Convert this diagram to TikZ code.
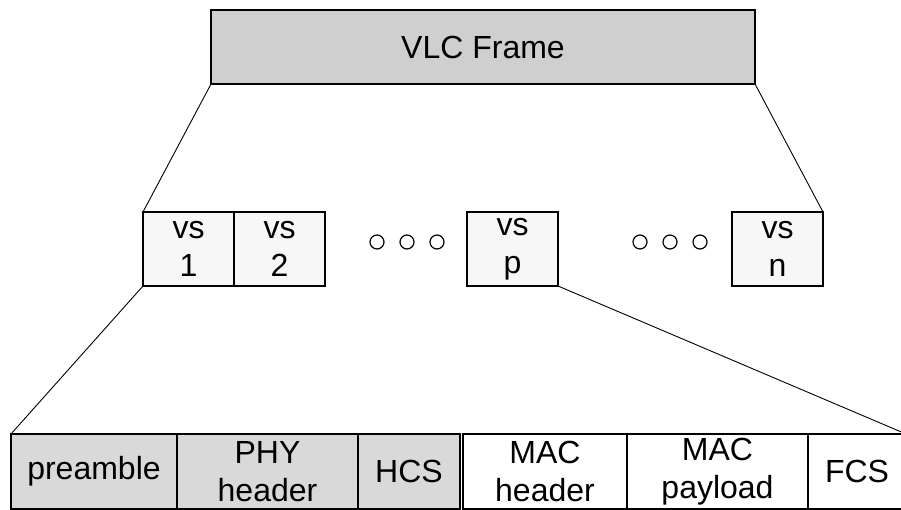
\documentclass[tikz,border=0pt]{standalone}
\usepackage{fontspec}
\setmainfont{Liberation Sans}
\usepackage{xcolor}
\usetikzlibrary{positioning}

\definecolor{framegray}{HTML}{CFCFCF}
\definecolor{phygray}{HTML}{D9D9D9}
\definecolor{vsgray}{HTML}{F7F7F7}

\begin{document}
\begin{tikzpicture}[
    x=1pt, y=1pt,
    node distance=0pt,
    frame/.style={rectangle, draw, line width=1.8pt, fill=framegray, minimum width=544pt, minimum height=74pt, inner sep=0pt, outer sep=0pt, font=\fontsize{32}{38.5}\selectfont},
    vsbox/.style={rectangle, draw, line width=1.2pt, fill=vsgray, minimum width=91pt, minimum height=74pt, inner sep=0pt, outer sep=0pt, align=center, font=\fontsize{32}{38.5}\selectfont},
    phycell/.style={rectangle, draw, line width=1.2pt, fill=phygray, minimum height=75pt, inner sep=0pt, outer sep=0pt, align=center, font=\fontsize{32}{38.5}\selectfont},
    maccell/.style={rectangle, draw, line width=1.2pt, fill=white, minimum height=75pt, inner sep=0pt, outer sep=0pt, align=center, font=\fontsize{32}{38.5}\selectfont},
    dot/.style={circle, draw, line width=1.2pt, minimum size=14pt, inner sep=0pt},
    link/.style={line width=0.9pt}
]
    \useasboundingbox (0,0) rectangle (901,510);

    \node[frame] (vlc) at (483,463) {VLC Frame};

    \node[vsbox, anchor=north west] (vs1) at (143,298) {vs\\1};
    \node[vsbox, right=of vs1] (vs2) {vs\\2};
    \node[vsbox, anchor=north west] (vsp) at (467,298) {vs\\p};
    \node[vsbox, anchor=north west] (vsn) at (732,298) {vs\\n};

    \node[dot] (dotA) at (377,268) {};
    \node[dot] (dotB) at (407,268) {};
    \node[dot] (dotC) at (437,268) {};
    \node[dot] (dotD) at (640,268) {};
    \node[dot] (dotE) at (670,268) {};
    \node[dot] (dotF) at (700,268) {};

    \node[phycell, minimum width=166pt, anchor=south west] (pre) at (11,1) {preamble};
    \node[phycell, minimum width=181pt, right=of pre] (phyhdr) {PHY\\header};
    \node[phycell, minimum width=102pt, right=of phyhdr] (hcs) {HCS};
    \node[maccell, minimum width=164pt, right=3pt of hcs] (machdr) {MAC\\header};
    \node[maccell, minimum width=181pt, right=of machdr] (macpay) {MAC\\payload};
    \node[maccell, minimum width=98pt, right=of macpay] (fcs) {FCS};

    \draw[link] (vlc.south west) -- (vs1.north west);
    \draw[link] (vlc.south east) -- (vsn.north east);
    \draw[link] (vs1.south west) -- (pre.north west);
    \draw[link] (vsp.south east) -- (fcs.north east);
\end{tikzpicture}
\end{document}
